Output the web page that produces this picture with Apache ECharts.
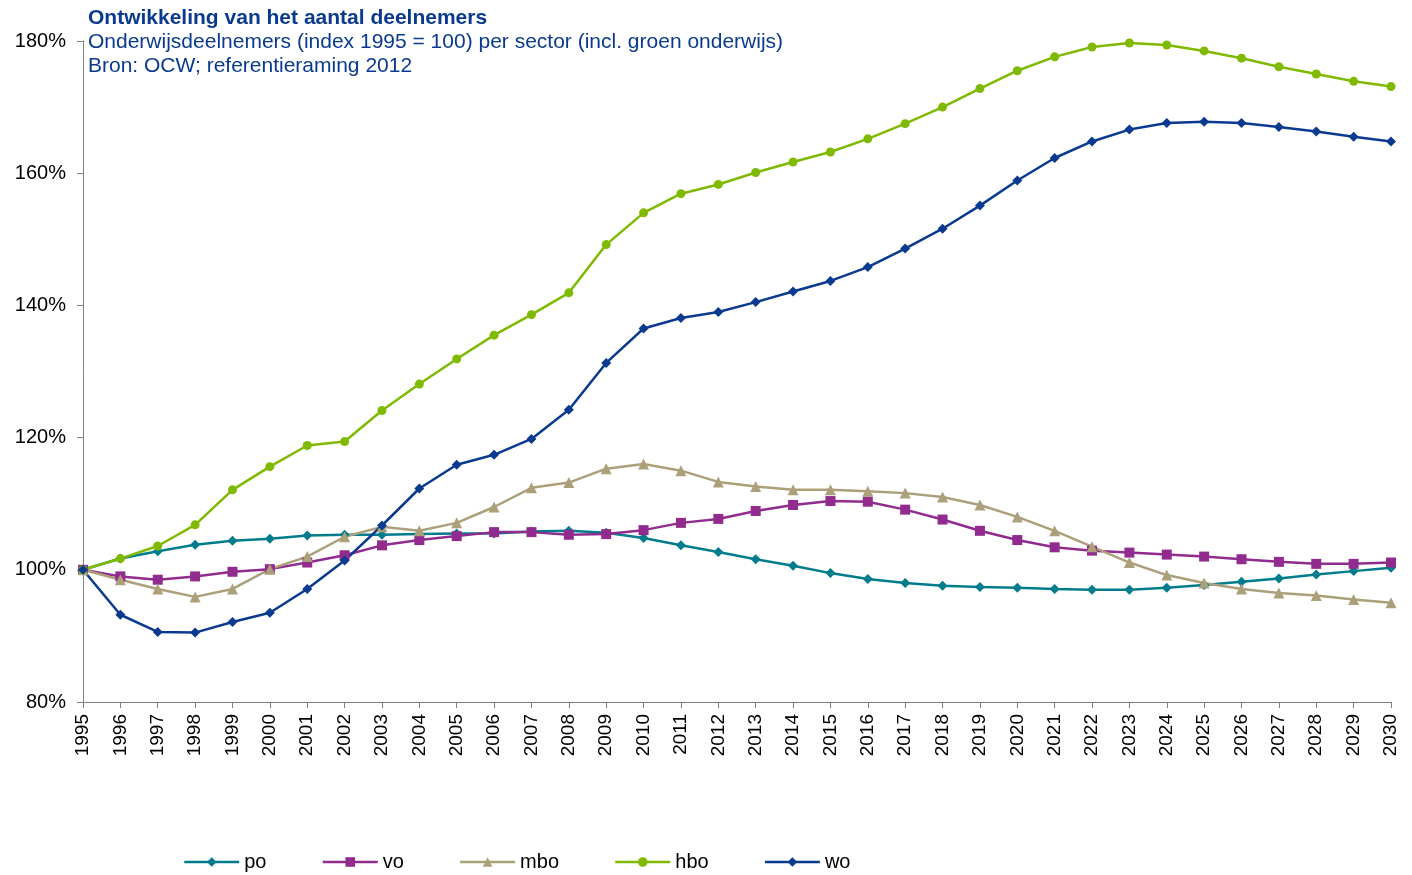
<!DOCTYPE html>
<html>
<head>
<meta charset="utf-8">
<script src="https://cdn.jsdelivr.net/npm/echarts@6/dist/echarts.min.js"></script>
<style>
  html, body { margin: 0; padding: 0; background: #fff; }
  #chart { width: 1412px; height: 875px; }
</style>
</head>
<body>
<div id="chart"></div>
<script>
  // jaren
  const years = []
  for (let y = 1995; y <= 2030; y++) years.push(String(y))

  // index 1995 = 100
  const po = [100, 101.7, 102.8, 103.8, 104.4, 104.7, 105.2, 105.3, 105.3, 105.4,
    105.5, 105.5, 105.8, 105.9, 105.6, 104.8, 103.7, 102.7, 101.6, 100.6,
    99.5, 98.6, 98.0, 97.6, 97.4, 97.3, 97.1, 97.0, 97.0, 97.3,
    97.7, 98.2, 98.7, 99.3, 99.8, 100.3]
  const vo = [100, 99.0, 98.5, 99.0, 99.7, 100.1, 101.1, 102.2, 103.7, 104.5,
    105.1, 105.7, 105.7, 105.3, 105.4, 106.0, 107.1, 107.7, 108.9, 109.8,
    110.4, 110.3, 109.1, 107.6, 105.9, 104.5, 103.4, 102.9, 102.6, 102.3,
    102.0, 101.6, 101.2, 100.9, 100.9, 101.1]
  const mbo = [100, 98.5, 97.1, 95.9, 97.1, 100.1, 102.0, 105.0, 106.5, 105.9,
    107.1, 109.5, 112.4, 113.2, 115.3, 116.0, 115.0, 113.3, 112.6, 112.1,
    112.1, 111.9, 111.6, 111.0, 109.8, 108.0, 105.9, 103.5, 101.1, 99.2,
    98.0, 97.1, 96.5, 96.1, 95.5, 95.0]
  const hbo = [100, 101.7, 103.6, 106.8, 112.1, 115.6, 118.8, 119.4, 124.1, 128.1,
    131.9, 135.5, 138.6, 141.9, 149.2, 154.0, 156.9, 158.3, 160.1, 161.7,
    163.2, 165.2, 167.5, 170.0, 172.8, 175.5, 177.6, 179.1, 179.7, 179.4,
    178.5, 177.4, 176.1, 175.0, 173.9, 173.1]
  const wo = [100, 93.2, 90.6, 90.5, 92.1, 93.5, 97.1, 101.4, 106.7, 112.3,
    115.9, 117.4, 119.8, 124.2, 131.3, 136.5, 138.1, 139.0, 140.5, 142.1,
    143.7, 145.8, 148.6, 151.6, 155.1, 158.9, 162.3, 164.8, 166.6, 167.6,
    167.8, 167.6, 167.0, 166.3, 165.5, 164.8]

  const font = 'Arial, "Liberation Sans", sans-serif'

  function makeSeries(name, data, color, symbol, size){
    return {
      name: name,
      type: 'line',
      data: data,
      symbol: symbol,
      symbolSize: size,
      showSymbol: true,
      lineStyle: { color: color, width: 2.5 },
      itemStyle: { color: color },
      emphasis: { disabled: true },
      animation: false
    }
  }

  const chart = echarts.init(document.getElementById('chart'))
  const option = {
    backgroundColor: '#fff',
    textStyle: { fontFamily: font },
    title: {
      text: 'Ontwikkeling van het aantal deelnemers',
      subtext: 'Onderwijsdeelnemers (index 1995 = 100) per sector (incl. groen onderwijs)\nBron: OCW; referentieraming 2012',
      left: 83,
      top: 3,
      itemGap: 1,
      textStyle: { fontFamily: font, fontSize: 21, fontWeight: 'bold', color: '#0A3A8F' },
      subtextStyle: { fontFamily: font, fontSize: 21, color: '#0A3A8F', lineHeight: 24 }
    },
    grid: { left: 83, right: 21, top: 41, bottom: 173 },
    xAxis: {
      type: 'category',
      data: years,
      boundaryGap: false,
      axisLine: { lineStyle: { color: '#808080', width: 1 } },
      axisTick: { show: true, length: 6, lineStyle: { color: '#808080' } },
      axisLabel: { rotate: 90, color: '#000', fontSize: 19, fontFamily: font, margin: 12, interval: 0 },
      splitLine: { show: false }
    },
    yAxis: {
      type: 'value',
      min: 80,
      max: 180,
      interval: 20,
      axisLine: { show: true, lineStyle: { color: '#808080', width: 1 } },
      axisTick: { show: true, length: 6, lineStyle: { color: '#808080' } },
      axisLabel: { formatter: '{value}%', color: '#000', fontSize: 20, fontFamily: font, margin: 17 },
      splitLine: { show: false }
    },
    legend: {
      left: 178,
      bottom: -2,
      itemWidth: 55,
      itemHeight: 12,
      itemGap: 55,
      lineStyle: { width: 2.5 },
      textStyle: { fontFamily: font, fontSize: 20, color: '#000' },
      data: ['po', 'vo', 'mbo', 'hbo', 'wo']
    },
    series: [
      makeSeries('po', po, '#007C8C', 'diamond', 10),
      makeSeries('vo', vo, '#922B8E', 'rect', 10),
      makeSeries('mbo', mbo, '#ABA07A', 'triangle', 11),
      makeSeries('hbo', hbo, '#7FBA00', 'circle', 9),
      makeSeries('wo', wo, '#0A3A8F', 'diamond', 10)
    ]
  }
  chart.setOption(option)
</script>
</body>
</html>
